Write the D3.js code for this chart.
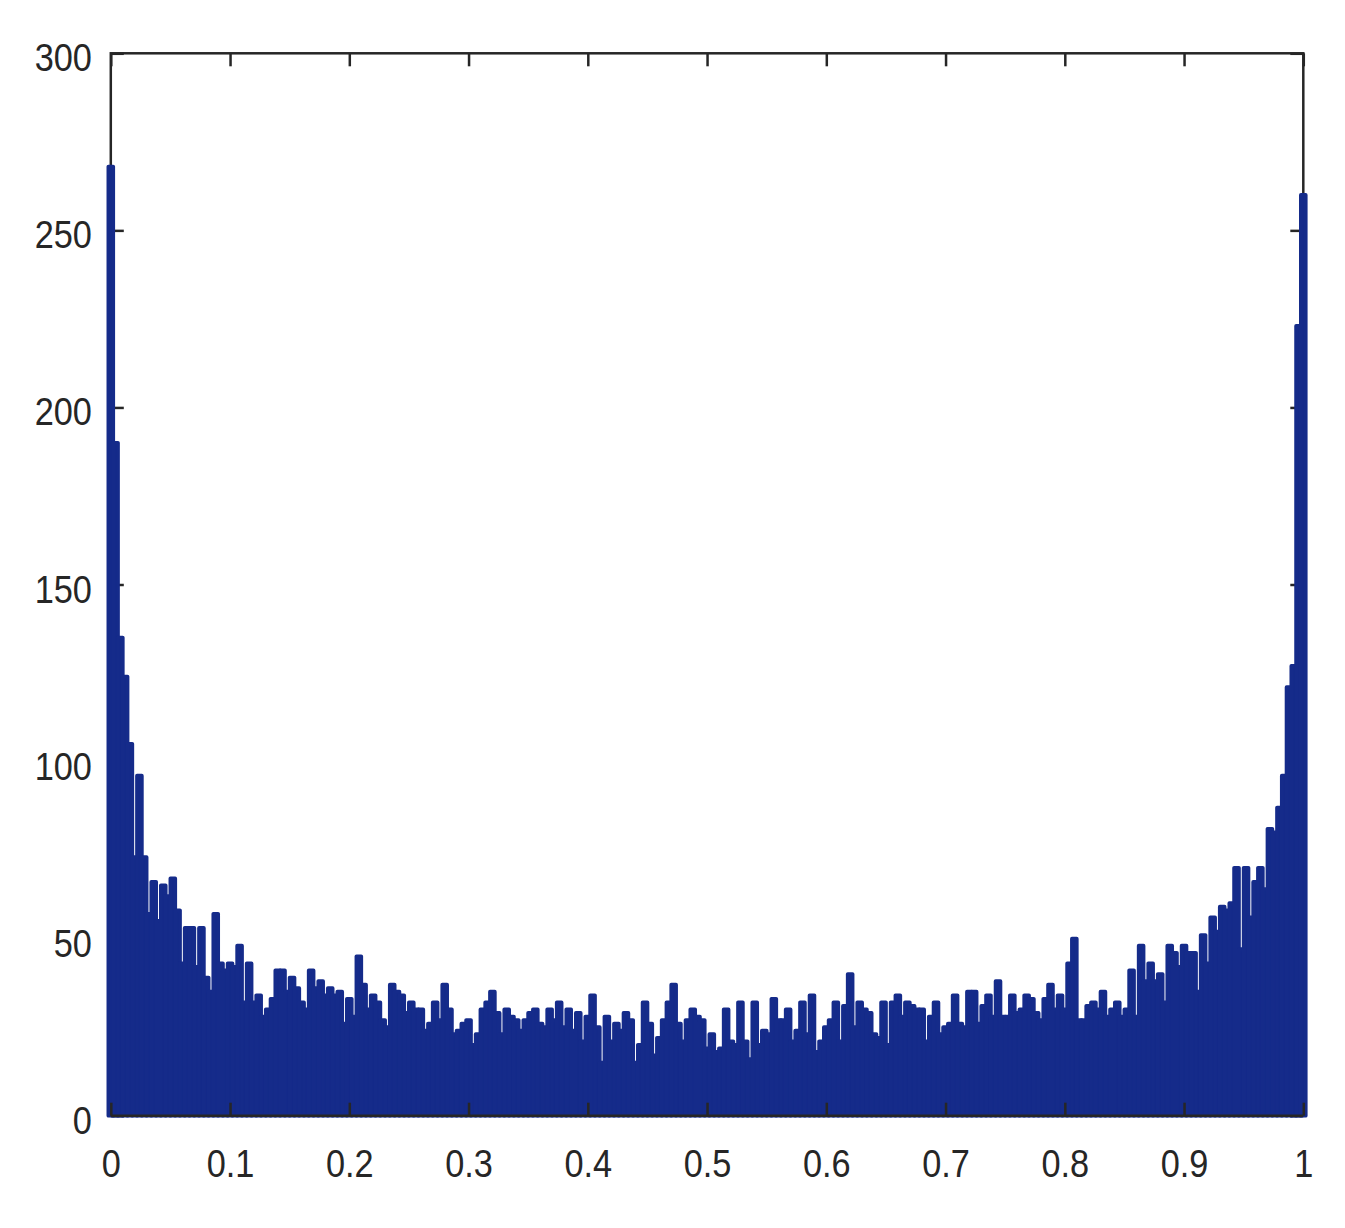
<!DOCTYPE html>
<html lang="en">

<head>
    <meta charset="utf-8" />
    <title>Histogram</title>
    <script src="https://d3js.org/d3.v7.min.js"></script>
    <style>
        body {
            margin: 0;
            background: #fff;
        }

        .tick text {
            font-family: "Liberation Sans", Arial, Helvetica, sans-serif;
            font-size: 39px;
            fill: #262626;
        }
    </style>
</head>

<body>
    <div id="chart"></div>
    <script>
        // counts per bin, bins centred on 0, 0.004, ..., 1
        var counts = [
            268, 190, 135, 124, 105, 73, 96, 73, 57, 66, 55, 65, 62, 67, 58, 43, 53, 53, 42, 53,
            39, 35, 57, 43, 41, 43, 42, 48, 32, 43, 32, 34, 28, 30, 33, 41, 41, 35, 39, 36,
            32, 30, 41, 36, 38, 34, 36, 34, 35, 26, 33,
            28, 45, 37, 30, 34, 32, 27, 25, 37, 35, 34, 29, 32, 30, 30, 24, 26, 32, 27, 37,
            30, 23, 24, 26, 27, 20, 23, 30, 32, 35, 29, 23, 30, 28, 27, 24, 27, 29, 30, 26,
            25, 30, 27, 32, 25, 30, 24, 29, 21, 28,
            34, 25, 15, 28, 21, 26, 24, 29, 27, 15, 20, 32, 26, 17, 22, 27, 32, 37, 26, 21,
            27, 30, 28, 27, 19, 23, 18, 19, 30, 21, 20, 32, 21, 16, 32, 20, 24, 23, 33, 27,
            27, 30, 21, 24, 32, 23, 34, 18, 21, 25,
            27, 32, 21, 31, 40, 25, 32, 30, 29, 23, 22, 32, 20, 32, 34, 28, 32, 31, 30, 30,
            21, 28, 32, 23, 25, 26, 34, 26, 25, 35, 35, 26, 31, 34, 28, 38, 28, 28, 34, 29,
            30, 34, 33, 29, 27, 33, 37, 30, 34, 30,
            43, 50, 27, 27, 31, 32, 30, 35, 28, 30, 32, 28, 30, 41, 28, 48, 38, 43, 38, 40,
            32, 48, 46, 42, 48, 46, 46, 35, 51, 43, 56, 52, 59, 58, 60, 70, 47, 70, 56, 66,
            70, 64, 81, 80, 87, 96, 121, 127, 223, 260
        ];
        var binWidth = 0.004;

        var xTicks = [0, 0.1, 0.2, 0.3, 0.4, 0.5, 0.6, 0.7, 0.8, 0.9, 1];
        var xTickLabels = ['0', '0.1', '0.2', '0.3', '0.4', '0.5', '0.6', '0.7', '0.8', '0.9', '1'];
        var yTicks = [0, 50, 100, 150, 200, 250, 300];
        var yTickLabels = ['0', '50', '100', '150', '200', '250', '300'];

        (function(d3) {
            'use strict';

            var width = 1345;
            var height = 1228;
            var left = 110.8,
                right = 1303.3,
                top = 53.3,
                bottom = 1115.7;
            var barColor = '#152b8a';
            var axisColor = '#262626';
            var tickLen = 13;

            var x = d3.scaleLinear().domain([0, 1]).range([left, right]);
            var y = d3.scaleLinear().domain([0, 300]).range([bottom, top]);

            var svg = d3.select('#chart')
                .append('svg')
                .attr('width', width)
                .attr('height', height)
                .style('display', 'block');

            svg.append('rect')
                .attr('width', width)
                .attr('height', height)
                .attr('fill', '#fff');

            function styleAxis(g) {
                g.select('.domain').remove();
                g.attr('color', axisColor);
                g.selectAll('.tick line').attr('stroke-width', 2.5);
                g.selectAll('.tick text').attr('transform', 'scale(0.88,1)');
            }

            // box
            svg.append('rect')
                .attr('x', left)
                .attr('y', top)
                .attr('width', right - left)
                .attr('height', bottom - top)
                .attr('fill', 'none')
                .attr('stroke', axisColor)
                .attr('stroke-width', 2.5);

            svg.append('g')
                .attr('transform', 'translate(' + left + ',0)')
                .call(d3.axisLeft(y)
                    .tickValues(yTicks)
                    .tickFormat(function(d, i) { return yTickLabels[i]; })
                    .tickSize(-tickLen)
                    .tickPadding(21.5))
                .call(styleAxis)
                .selectAll('.tick text').attr('dy', '0.45em');

            svg.append('g')
                .attr('transform', 'translate(' + right + ',0)')
                .call(d3.axisRight(y).tickValues(yTicks).tickFormat('').tickSize(-tickLen))
                .call(styleAxis);

            svg.append('g')
                .attr('transform', 'translate(0,' + top + ')')
                .call(d3.axisTop(x).tickValues(xTicks).tickFormat('').tickSize(-tickLen))
                .call(styleAxis);

            // bars
            var bw = x(binWidth) - x(0);
            svg.append('g')
                .selectAll('rect')
                .data(counts)
                .enter()
                .append('rect')
                .attr('x', function(d, i) { return x(i * binWidth) - bw / 2; })
                .attr('y', function(d) { return y(d); })
                .attr('width', bw)
                .attr('height', function(d) { return y(0) - y(d); })
                .attr('fill', barColor)
                .attr('stroke', barColor)
                .attr('stroke-width', 3.8)
                .attr('stroke-linejoin', 'round');

            // baseline and bottom ticks sit on top of the bars
            svg.append('line')
                .attr('x1', left)
                .attr('x2', right)
                .attr('y1', bottom)
                .attr('y2', bottom)
                .attr('stroke', axisColor)
                .attr('stroke-width', 2.5);

            svg.append('g')
                .attr('transform', 'translate(0,' + bottom + ')')
                .call(d3.axisBottom(x)
                    .tickValues(xTicks)
                    .tickFormat(function(d, i) { return xTickLabels[i]; })
                    .tickSize(-tickLen)
                    .tickPadding(33.3))
                .call(styleAxis);
        })(window.d3);
    </script>
</body>

</html>
